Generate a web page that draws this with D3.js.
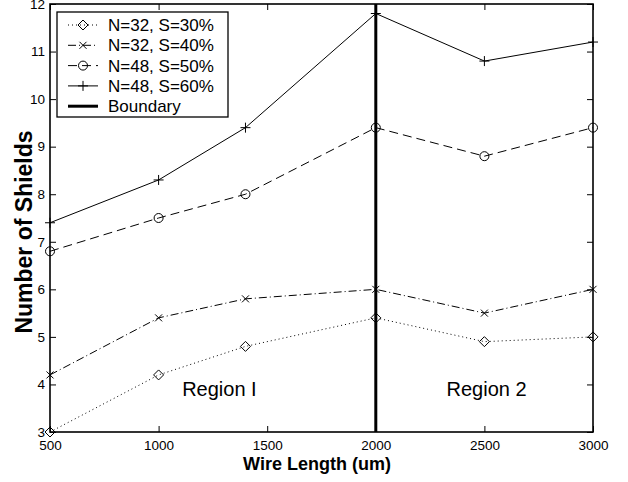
<!DOCTYPE html>
<html>
<head>
<meta charset="utf-8">
<script src="https://cdn.jsdelivr.net/npm/d3@7"></script>
<style>
  body { margin: 0; background: #fff; }
  text { font-family: "Liberation Sans", Arial, sans-serif; fill: #000; }
</style>
</head>
<body>
<div id="chart"></div>
<script>
// wire lengths (um)
var lengths = [500, 1000, 1400, 2000, 2500, 3000];

var s30 = [3.0, 4.2, 4.8, 5.4, 4.9, 5.0];
var s40 = [4.2, 5.4, 5.8, 6.0, 5.5, 6.0];
var s50 = [6.8, 7.5, 8.0, 9.4, 8.8, 9.4];
var s60 = [7.4, 8.3, 9.4, 11.8, 10.8, 11.2];

var seriesNames = ["N=32, S=30%", "N=32, S=40%", "N=48, S=50%", "N=48, S=60%"];
var xTicks = [500, 1000, 1500, 2000, 2500, 3000];
var yTicks = [3, 4, 5, 6, 7, 8, 9, 10, 11, 12];
var boundaryAt = 2000;
var regionLabels = [{ name: "Region I", at: 1280 }, { name: "Region 2", at: 2510 }];

var width = 628, height = 482;
var margin = { left: 50, right: 35, top: 4, bottom: 50 };

var svg = d3.select("#chart").append("svg")
  .attr("width", width)
  .attr("height", height);

var x = d3.scaleLinear().domain([500, 3000]).range([margin.left, width - margin.right]);
var y = d3.scaleLinear().domain([3, 12]).range([height - margin.bottom, margin.top]);

var series = [
  { name: seriesNames[0], values: s30, dash: "1,3", marker: "diamond" },
  { name: seriesNames[1], values: s40, dash: "8,3,1,3", marker: "cross" },
  { name: seriesNames[2], values: s50, dash: "9,5", marker: "circle" },
  { name: seriesNames[3], values: s60, dash: null, marker: "plus" }
];

function drawMarker(g, type, cx, cy) {
  if (type == "diamond") {
    g.append("path").attr("d", "M" + cx + "," + (cy - 5) + " L" + (cx + 5) + "," + cy + " L" + cx + "," + (cy + 5) + " L" + (cx - 5) + "," + cy + " Z")
      .attr("fill", "none").attr("stroke", "#000").attr("stroke-width", 1);
  }
  if (type == "circle") {
    g.append("circle").attr("cx", cx).attr("cy", cy).attr("r", 4.5)
      .attr("fill", "none").attr("stroke", "#000").attr("stroke-width", 1);
  }
  if (type == "plus") {
    g.append("path").attr("d", "M" + (cx - 5) + "," + cy + " H" + (cx + 5) + " M" + cx + "," + (cy - 5) + " V" + (cy + 5))
      .attr("fill", "none").attr("stroke", "#000").attr("stroke-width", 1);
  }
  if (type == "cross") {
    g.append("path").attr("d", "M" + (cx - 3.5) + "," + (cy - 3.5) + " L" + (cx + 3.5) + "," + (cy + 3.5) + " M" + (cx - 3.5) + "," + (cy + 3.5) + " L" + (cx + 3.5) + "," + (cy - 3.5))
      .attr("fill", "none").attr("stroke", "#000").attr("stroke-width", 1);
  }
}

// axes, ticks point inward
var xAxis = svg.append("g")
  .attr("transform", "translate(0," + y(3) + ")")
  .call(d3.axisBottom(x).tickValues(xTicks).tickSize(-6).tickSizeOuter(0).tickFormat(d3.format("d")));
xAxis.selectAll("text").attr("y", 18).attr("dy", 0).style("font-size", "13.5px")
  .style("font-family", "Liberation Sans, Arial, sans-serif");

var xTop = svg.append("g")
  .attr("transform", "translate(0," + y(12) + ")")
  .call(d3.axisTop(x).tickValues(xTicks).tickSize(-6).tickSizeOuter(0).tickFormat(""));

var yAxis = svg.append("g")
  .attr("transform", "translate(" + x(500) + ",0)")
  .call(d3.axisLeft(y).tickValues(yTicks).tickSize(-6).tickSizeOuter(0).tickPadding(5));
yAxis.selectAll("text").style("font-size", "13.5px")
  .style("font-family", "Liberation Sans, Arial, sans-serif");

var yRight = svg.append("g")
  .attr("transform", "translate(" + x(3000) + ",0)")
  .call(d3.axisRight(y).tickValues(yTicks).tickSize(-6).tickSizeOuter(0).tickFormat(""));

svg.selectAll(".domain").remove();
svg.selectAll(".tick line").attr("stroke", "#000").attr("stroke-width", 1);

svg.append("rect")
  .attr("x", x(500)).attr("y", y(12))
  .attr("width", x(3000) - x(500)).attr("height", y(3) - y(12))
  .attr("fill", "none").attr("stroke", "#000").attr("stroke-width", 1.6);

// series
var line = d3.line()
  .x(function (d, i) { return x(lengths[i]); })
  .y(function (d) { return y(d); });

series.forEach(function (s) {
  svg.append("path")
    .attr("d", line(s.values))
    .attr("fill", "none")
    .attr("stroke", "#000")
    .attr("stroke-width", 1)
    .attr("stroke-dasharray", s.dash);
  var mg = svg.append("g");
  s.values.forEach(function (v, i) {
    drawMarker(mg, s.marker, x(lengths[i]), y(v));
  });
});

// boundary
svg.append("line")
  .attr("x1", x(boundaryAt)).attr("x2", x(boundaryAt))
  .attr("y1", y(12)).attr("y2", y(3))
  .attr("stroke", "#000").attr("stroke-width", 3);

// region labels
svg.selectAll("text.region")
  .data(regionLabels)
  .enter()
  .append("text")
  .attr("class", "region")
  .attr("x", function (d) { return x(d.at); })
  .attr("y", 396)
  .attr("text-anchor", "middle")
  .style("font-size", "20px")
  .text(function (d) { return d.name; });

// axis titles
svg.append("text")
  .attr("x", 317).attr("y", 470)
  .attr("text-anchor", "middle")
  .style("font-size", "18px").style("font-weight", "bold")
  .text("Wire Length (um)");

svg.append("text")
  .attr("transform", "translate(32,232) rotate(-90)")
  .attr("text-anchor", "middle")
  .style("font-size", "23px").style("font-weight", "bold")
  .text("Number of Shields");

// legend
var legend = svg.append("g");
legend.append("rect")
  .attr("x", 57).attr("y", 12).attr("width", 171).attr("height", 105)
  .attr("fill", "#fff").attr("stroke", "#000").attr("stroke-width", 1.3);

var legendItems = series.concat([{ name: "Boundary", dash: null, marker: null, thick: true }]);
legendItems.forEach(function (s, i) {
  var ly = 25 + i * 20.3;
  legend.append("line")
    .attr("x1", 68).attr("x2", 98).attr("y1", ly).attr("y2", ly)
    .attr("stroke", "#000")
    .attr("stroke-width", s.thick ? 3 : 1)
    .attr("stroke-dasharray", s.dash);
  if (s.marker) drawMarker(legend, s.marker, 83, ly);
  legend.append("text")
    .attr("x", 108).attr("y", ly + 6)
    .style("font-size", "17px")
    .text(s.name);
});
</script>
</body>
</html>
